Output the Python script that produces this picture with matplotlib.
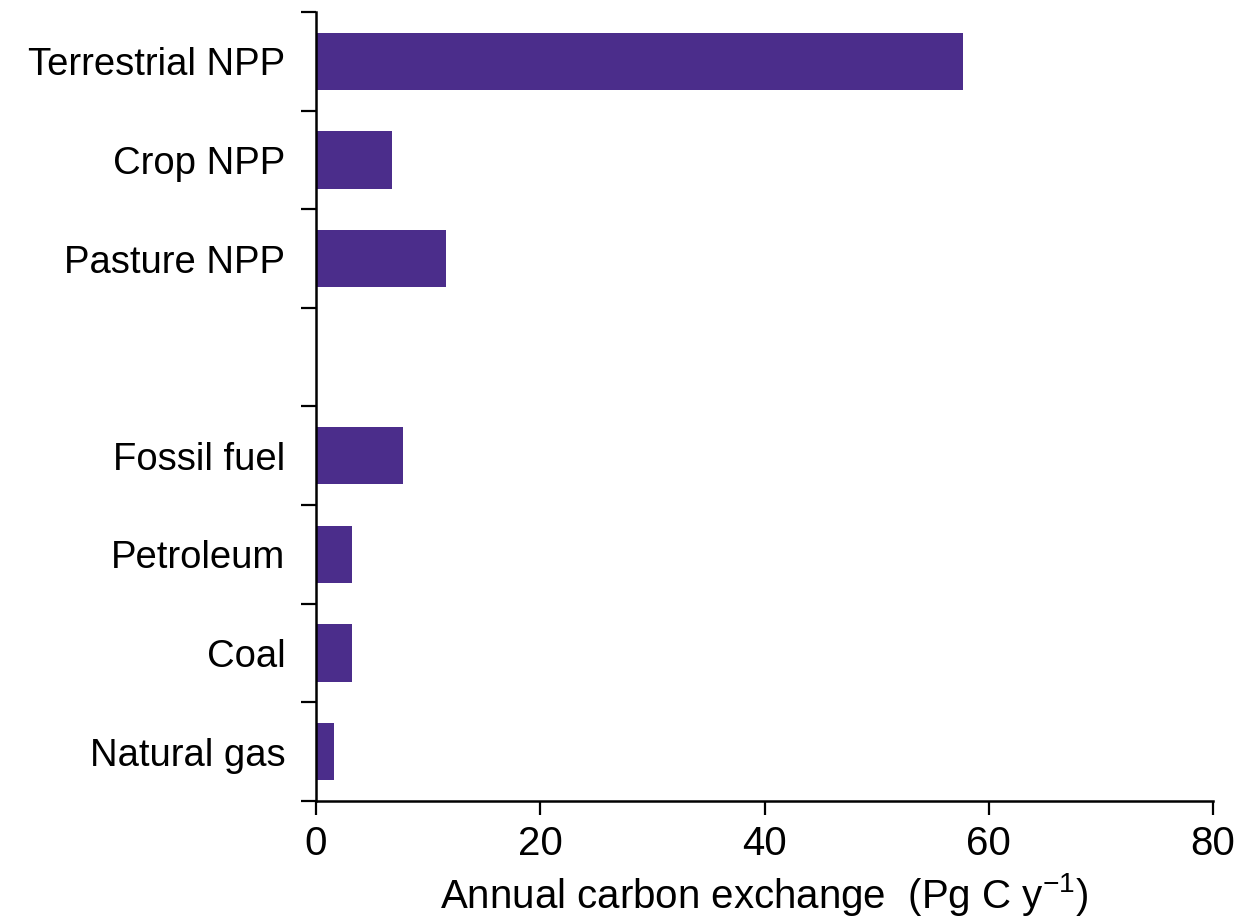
import matplotlib
matplotlib.use('Agg')
import matplotlib.pyplot as plt

# Data, top to bottom ('' is the empty slot between the two groups)
categories = ['Terrestrial NPP', 'Crop NPP', 'Pasture NPP', '',
              'Fossil fuel', 'Petroleum', 'Coal', 'Natural gas']
values = [57.7, 6.8, 11.6, 0, 7.8, 3.2, 3.2, 1.6]
x_ticks = [0, 20, 40, 60, 80]

plt.rcParams['font.family'] = ['Liberation Sans', 'DejaVu Sans']
plt.rcParams['mathtext.fontset'] = 'custom'
plt.rcParams['mathtext.rm'] = 'Liberation Sans'
plt.rcParams['mathtext.it'] = 'Liberation Sans:italic'

fig = plt.figure(figsize=(12.42, 9.21), dpi=100)
ax = fig.add_axes([0.2544, 0.1303, 0.7223, 0.8567])

n = len(categories)
y_pos = [n - 0.5 - i for i in range(n)]
ax.barh(y_pos, values, height=0.58, color='#4b2d8b', linewidth=0)

ax.set_xlim(0, 80)
ax.set_ylim(0, n)

# slot boundaries as major ticks, category names as minor tick labels
ax.set_yticks(range(n + 1))
ax.set_yticklabels([])
ax.set_yticks(y_pos, minor=True)
ax.set_yticklabels(categories, minor=True, fontsize=27.5)
ax.tick_params(axis='y', which='major', length=11, width=1.6, direction='out')
ax.tick_params(axis='y', which='minor', length=0, pad=22)

ax.set_xticks(x_ticks)
ax.set_xticklabels([str(t) for t in x_ticks], fontsize=29)
ax.tick_params(axis='x', length=10, width=1.6, direction='out', pad=7)

ax.set_xlabel(r'Annual carbon exchange  (Pg C y$^{-1}$)', fontsize=29, labelpad=6)

for side in ['top', 'right']:
    ax.spines[side].set_visible(False)
for side in ['left', 'bottom']:
    ax.spines[side].set_linewidth(1.8)

fig.savefig('out.png', dpi=100)
